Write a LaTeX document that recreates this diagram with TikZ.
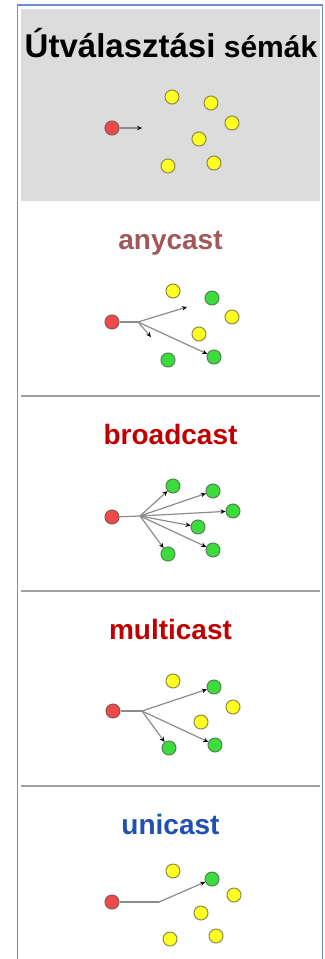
\documentclass[tikz,border=0pt]{standalone}
\usepackage{fontspec}
\setmainfont{Liberation Sans}
\usetikzlibrary{arrows.meta}
\definecolor{frameblue}{HTML}{6B8FCB}
\definecolor{headgray}{HTML}{DCDCDC}
\definecolor{sepgray}{HTML}{A0A0A0}
\definecolor{dotred}{HTML}{EE4A4A}
\definecolor{dotyellow}{HTML}{FFFF22}
\definecolor{dotgreen}{HTML}{3CDC3C}
\definecolor{anyc}{HTML}{A05858}
\definecolor{darkred}{HTML}{C00000}
\definecolor{uniblue}{HTML}{2050B0}
\definecolor{linkgray}{HTML}{8C8C8C}
\tikzset{
  dot/.style={circle, inner sep=0pt, minimum size=14bp, line width=1bp},
  rd/.style={dot, fill=dotred, draw=dotred!40!black!75},
  yd/.style={dot, fill=dotyellow, draw=dotyellow!40!black!75},
  gd/.style={dot, fill=dotgreen, draw=dotgreen!40!black!75},
  link/.style={draw=linkgray, line width=1.2bp},
  arr/.style={link, -{Stealth[black, length=5bp, width=4.5bp]}},
  lbl/.style={anchor=base, font=\fontsize{28bp}{30bp}\selectfont\bfseries},
  sep/.style={draw=sepgray, line width=1.2bp}
}
\begin{document}
\begin{tikzpicture}[x=1bp, y=-1bp]
\useasboundingbox (0,0) rectangle (324,959);
% frame and header
\fill[headgray] (21,9) rectangle (320,201);
\draw[frameblue, line width=1.6bp] (17.5,960) -- (17.5,5) -- (322.5,5) -- (322.5,960);
\draw[sep] (21,396) -- (320,396);
\draw[sep] (21,591) -- (320,591);
\draw[sep] (21,786) -- (320,786);
% title
\node[anchor=base, inner sep=0pt, font=\fontsize{33bp}{35bp}\selectfont\bfseries] (title) at (171,57) {Útválasztási\fontsize{30bp}{32bp}\selectfont{} sémák};
% header panel
\node[rd] (hR) at (112,128) {};
\node[yd] (hA) at (172,97) {};
\node[yd] (hB) at (211,103) {};
\node[yd] (hC) at (232,123) {};
\node[yd] (hD) at (199,139) {};
\node[yd] (hE) at (168,166) {};
\node[yd] (hF) at (214,163) {};
\coordinate (hT) at (142,128);
\draw[arr] (hR) -- (hT);
% anycast
\node[lbl, text=anyc] (anyl) at (170.5,249) {anycast};
\node[rd] (aR) at (112,322) {};
\node[yd] (aA) at (173,291) {};
\node[gd] (aB) at (212,298) {};
\node[yd] (aC) at (232,317) {};
\node[yd] (aD) at (199,334) {};
\node[gd] (aE) at (168,360) {};
\node[gd] (aF) at (214,357) {};
\coordinate (aK) at (138,322);
\coordinate (aT1) at (187,307);
\coordinate (aT2) at (151,337);
\draw[link] (aR) -- (aK);
\draw[arr] (aK) -- (aT1);
\draw[arr] (aK) -- (aT2);
\draw[arr] (aK) -- (aF);
% broadcast
\node[lbl, text=darkred] (brl) at (170.5,444) {broadcast};
\node[rd] (bR) at (112,517) {};
\node[gd] (bA) at (173,486) {};
\node[gd] (bB) at (213,491) {};
\node[gd] (bC) at (233,511) {};
\node[gd] (bD) at (198,527) {};
\node[gd] (bE) at (168,554) {};
\node[gd] (bF) at (213,550) {};
\coordinate (bK) at (140,516);
\draw[link] (bR) -- (bK);
\foreach \t in {bA,bB,bC,bD,bE,bF} \draw[arr] (bK) -- (\t);
% multicast
\node[lbl, text=darkred] (mul) at (170.5,639) {multicast};
\node[rd] (mR) at (113,711) {};
\node[yd] (mA) at (173,681) {};
\node[gd] (mB) at (214,687) {};
\node[yd] (mC) at (233,707) {};
\node[yd] (mD) at (201,722) {};
\node[gd] (mE) at (169,748) {};
\node[gd] (mF) at (215,745) {};
\coordinate (mK) at (142,711);
\draw[link] (mR) -- (mK);
\foreach \t in {mB,mE,mF} \draw[arr] (mK) -- (\t);
% unicast
\node[lbl, text=uniblue] (unl) at (170.5,834) {unicast};
\node[rd] (uR) at (112,902) {};
\node[yd] (uA) at (173,871) {};
\node[gd] (uB) at (212,879) {};
\node[yd] (uC) at (234,895) {};
\node[yd] (uD) at (201,913) {};
\node[yd] (uE) at (170,939) {};
\node[yd] (uF) at (216,936) {};
\coordinate (uK) at (159,902);
\draw[link] (uR) -- (uK);
\draw[arr] (uK) -- (uB);
\end{tikzpicture}
\end{document}
